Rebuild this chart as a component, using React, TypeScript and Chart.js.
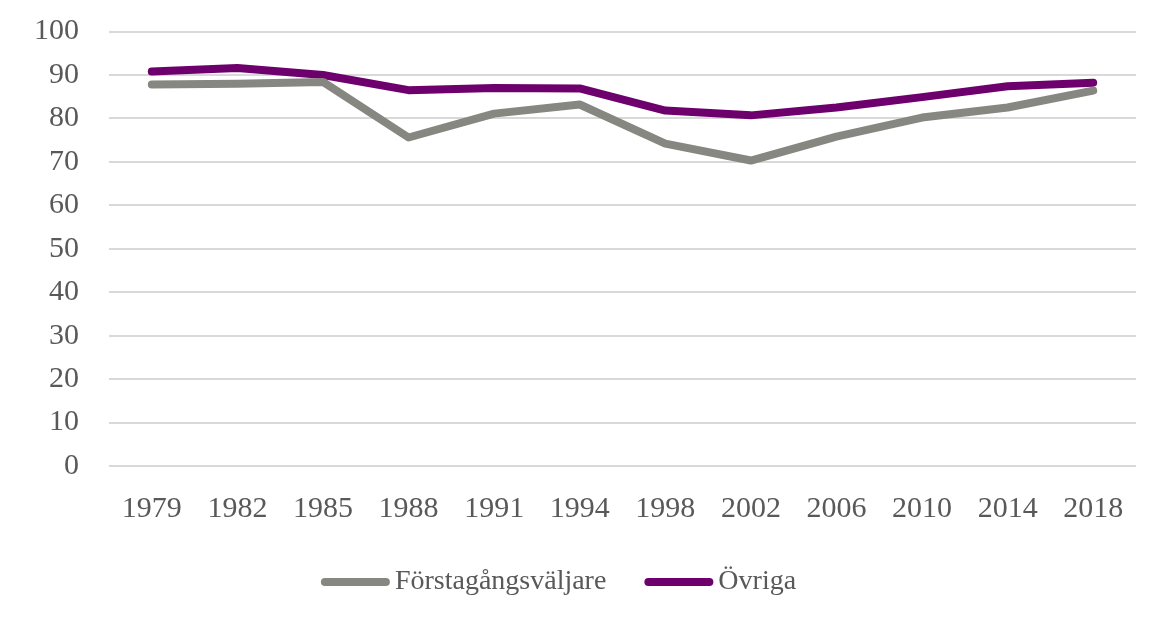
import React, { useEffect, useRef } from "react";
import { Chart, registerables } from "chart.js";

Chart.register(...registerables);

const years = ["1979", "1982", "1985", "1988", "1991", "1994", "1998", "2002", "2006", "2010", "2014", "2018"];
const forstagangs = [87.8, 88.0, 88.4, 75.6, 81.1, 83.2, 74.2, 70.3, 75.8, 80.2, 82.5, 86.4];
const ovriga = [90.8, 91.6, 90.0, 86.5, 87.0, 86.9, 81.8, 80.7, 82.5, 84.9, 87.4, 88.2];
const yTicks = { min: 0, max: 100, step: 10 };

const GREY = "#878782";
const PURPLE = "#6e006e";
const TEXT = "#595959";
const FONT = "'Liberation Serif', serif";

const legendPlugin = {
  id: "customLegend",
  afterDraw(chart: any) {
    const ctx = chart.ctx as CanvasRenderingContext2D;
    const ds = chart.data.datasets;
    const L = 69;
    const gap = 5;
    const itemGap = 38;
    ctx.save();
    ctx.font = `28px ${FONT}`;
    const widths = ds.map((d: any) => L + gap + ctx.measureText(d.label).width);
    const total = widths.reduce((a: number, b: number) => a + b, 0) + itemGap * (ds.length - 1);
    let x = chart.width / 2 - 21 - total / 2;
    const y = 582;
    ds.forEach((d: any, i: number) => {
      ctx.strokeStyle = d.borderColor;
      ctx.lineWidth = 8;
      ctx.lineCap = "round";
      ctx.beginPath();
      ctx.moveTo(x + 4, y);
      ctx.lineTo(x + L - 4, y);
      ctx.stroke();
      ctx.fillStyle = TEXT;
      ctx.textBaseline = "middle";
      ctx.textAlign = "left";
      ctx.fillText(d.label, x + L + gap, y);
      x += widths[i] + itemGap;
    });
    ctx.restore();
  },
};

export default function App() {
  const ref = useRef<HTMLCanvasElement>(null);
  useEffect(() => {
    const chart = new Chart(ref.current!, {
      type: "line",
      data: {
        labels: years,
        datasets: [
          {
            label: "Förstagångsväljare",
            data: forstagangs,
            borderColor: GREY,
            backgroundColor: GREY,
            borderWidth: 8,
            pointRadius: 0,
            borderCapStyle: "round",
            borderJoinStyle: "round",
            tension: 0,
          },
          {
            label: "Övriga",
            data: ovriga,
            borderColor: PURPLE,
            backgroundColor: PURPLE,
            borderWidth: 8,
            pointRadius: 0,
            borderCapStyle: "round",
            borderJoinStyle: "round",
            tension: 0,
          },
        ],
      },
      options: {
        responsive: false,
        animation: false,
        layout: { padding: { left: 4, right: 23, top: 0, bottom: 88 } },
        plugins: {
          tooltip: { enabled: false },
          legend: { display: false },
        },
        scales: {
          x: {
            offset: true,
            grid: { display: false },
            border: { display: false },
            ticks: { color: TEXT, font: { family: FONT, size: 30 }, padding: 17, maxRotation: 0 },
          },
          y: {
            min: yTicks.min,
            max: yTicks.max,
            border: { display: false },
            grid: { color: "#d9d9d9", lineWidth: 2, drawTicks: false },
            ticks: { stepSize: yTicks.step, color: TEXT, font: { family: FONT, size: 30, lineHeight: 0.1 }, padding: 30 },
          },
        },
      },
      plugins: [legendPlugin],
    });
    return () => chart.destroy();
  }, []);
  return (
    <div style={{ position: "fixed", left: 0, top: 0, width: 1159, height: 632, background: "#fff" }}>
      <canvas ref={ref} width={1159} height={632} />
    </div>
  );
}
